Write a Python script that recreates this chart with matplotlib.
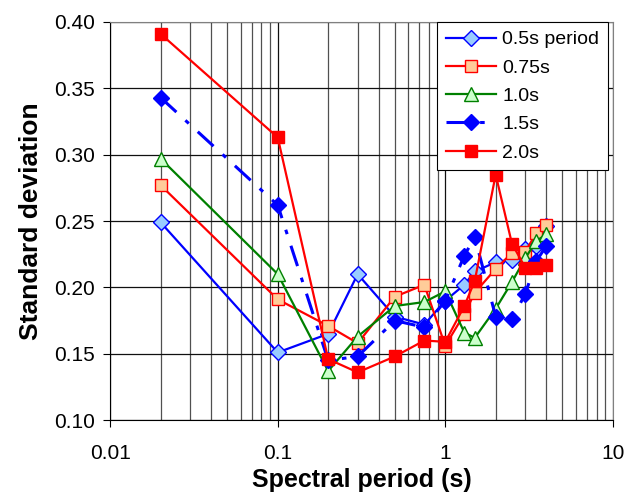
import numpy as np
import matplotlib
matplotlib.use("Agg")
import matplotlib.pyplot as plt
from matplotlib.ticker import FixedLocator, NullFormatter

# spectral periods (s)
periods = [0.02, 0.1, 0.2, 0.3, 0.5, 0.75, 1.0, 1.3, 1.5, 2.0, 2.5, 3.0, 3.5, 4.0]

# standard deviation for each series
sd_05 = [0.249, 0.151, 0.165, 0.210, 0.178, 0.172, 0.190, 0.202, 0.212, 0.219, 0.221, 0.229, 0.231, 0.246]
sd_075 = [0.277, 0.191, 0.171, 0.158, 0.193, 0.202, 0.156, 0.180, 0.196, 0.214, 0.226, 0.227, 0.241, 0.247]
sd_10 = [0.297, 0.210, 0.137, 0.163, 0.186, 0.189, 0.197, 0.166, 0.162, 0.184, 0.204, 0.222, 0.235, 0.240]
sd_15 = [0.343, 0.262, 0.145, 0.148, 0.175, 0.170, 0.190, 0.224, 0.238, 0.178, 0.176, 0.195, 0.220, 0.231]
sd_20 = [0.391, 0.313, 0.146, 0.136, 0.148, 0.160, 0.159, 0.186, 0.205, 0.285, 0.233, 0.215, 0.215, 0.217]

labels = ["0.5s period", "0.75s", "1.0s", "1.5s", "2.0s"]

plt.rcParams['font.family'] = ['Liberation Sans', 'DejaVu Sans']

fig = plt.figure(figsize=(6.37, 4.99), dpi=100)
ax = fig.add_axes([0.173, 0.158, 0.789, 0.798])

# grid: horizontal at 0.05 steps, vertical on every log tick
ax.set_xscale('log')
ax.set_xlim(0.01, 10)
ax.set_ylim(0.10, 0.40)
ax.xaxis.set_major_locator(FixedLocator([0.01, 0.1, 1, 10]))
minors = [m * d for d in [0.01, 0.1, 1] for m in range(2, 10)]
ax.xaxis.set_minor_locator(FixedLocator(minors))
ax.xaxis.set_minor_formatter(NullFormatter())
ax.set_xticklabels(["0.01", "0.1", "1", "10"])
ax.set_yticks(np.arange(0.10, 0.401, 0.05))
ax.set_yticklabels(["%.2f" % v for v in np.arange(0.10, 0.401, 0.05)])
ax.grid(True, which='major', color='#101010', lw=0.9)
ax.grid(True, which='minor', axis='x', color='#505050', lw=0.9)
ax.set_axisbelow(True)
ax.tick_params(axis='both', which='major', labelsize=15, length=5, direction='out')
ax.tick_params(axis='x', which='major', pad=12)
ax.tick_params(axis='y', which='major', pad=6)
ax.tick_params(axis='x', which='minor', length=0)
for s in ['top', 'right']:
    ax.spines[s].set_color('#808080')
for s in ['left', 'bottom']:
    ax.spines[s].set_color('black')

ax.plot(periods, sd_05, color='#0000FF', lw=1.6, marker='D', ms=8,
        mfc='#99CCFF', mec='#0000FF', mew=1.0, label=labels[0])
ax.plot(periods, sd_075, color='#FF0000', lw=1.6, marker='s', ms=9,
        mfc='#FFCC99', mec='#FF0000', mew=1.0, label=labels[1])
ax.plot(periods, sd_10, color='#008000', lw=1.6, marker='^', ms=10,
        mfc='#CCFFCC', mec='#008000', mew=1.0, label=labels[2])
ax.plot(periods, sd_15, color='#0000FF', lw=2.2, marker='D', ms=8,
        mfc='#0000FF', mec='#0000FF', dashes=(7, 4, 1.5, 4), label=labels[3])
ax.plot(periods, sd_20, color='#FF0000', lw=1.6, marker='s', ms=9,
        mfc='#FF0000', mec='#FF0000', label=labels[4])

ax.set_xlabel("Spectral period (s)", fontsize=18, fontweight='bold', labelpad=4)
ax.set_ylabel("Standard deviation", fontsize=19, fontweight='bold', labelpad=8)

leg = ax.legend(loc='upper right', bbox_to_anchor=(0.99, 1.0), fontsize=14,
                frameon=True, fancybox=False, framealpha=1, edgecolor='black',
                handlelength=2.6, borderpad=0.45, labelspacing=0.55,
                handletextpad=0.3, borderaxespad=0.0)
leg.get_frame().set_linewidth(0.8)

fig.savefig("out.png", dpi=100)
